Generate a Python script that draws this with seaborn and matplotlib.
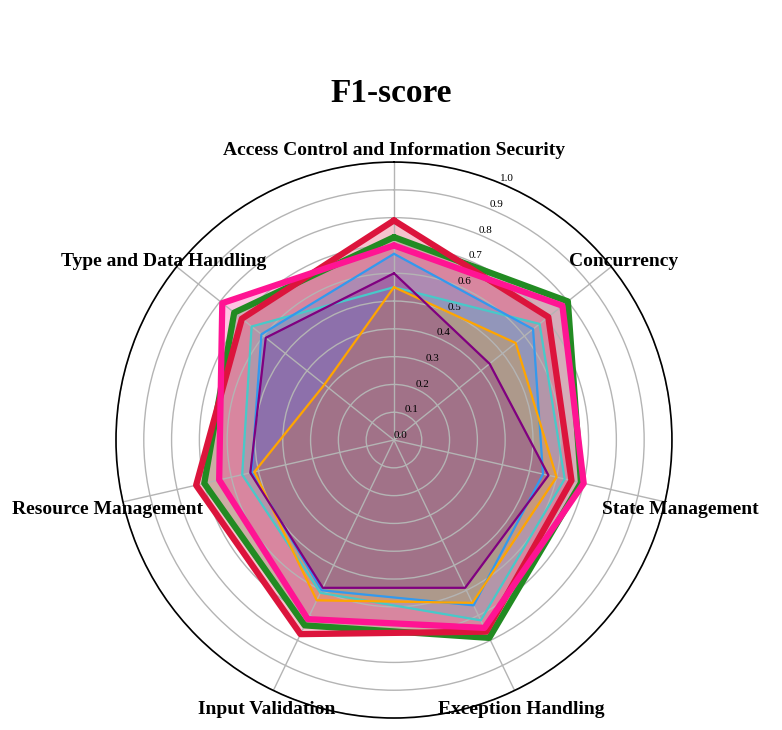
import numpy as np
import pandas as pd
import matplotlib
matplotlib.use('Agg')
import matplotlib.pyplot as plt
import matplotlib.transforms as mtransforms
import seaborn as sns

sns.set_style('white')
plt.rcParams['font.family'] = ['Liberation Serif', 'DejaVu Serif']
plt.rcParams['text.color'] = 'black'
plt.rcParams['xtick.color'] = 'black'
plt.rcParams['ytick.color'] = 'black'

# ── data ──────────────────────────────────────────────────────────
categories = ['Access Control and Information Security', 'Concurrency',
              'State Management', 'Exception Handling', 'Input Validation',
              'Resource Management', 'Type and Data Handling']

green_f1 = [0.73, 0.80, 0.69, 0.79, 0.74, 0.70, 0.735]
crimson_f1 = [0.79, 0.71, 0.655, 0.765, 0.775, 0.73, 0.70]
pink_f1 = [0.70, 0.775, 0.70, 0.75, 0.715, 0.645, 0.79]
turquoise_f1 = [0.55, 0.67, 0.63, 0.72, 0.61, 0.56, 0.655]
blue_f1 = [0.67, 0.64, 0.55, 0.66, 0.60, 0.525, 0.61]
orange_f1 = [0.55, 0.56, 0.60, 0.65, 0.64, 0.515, 0.32]
purple_f1 = [0.60, 0.44, 0.57, 0.59, 0.59, 0.53, 0.59]

r_ticks = [0.0, 0.1, 0.2, 0.3, 0.4, 0.5, 0.6, 0.7, 0.8, 0.9, 1.0]

# styles: (values, colour, line width)
series = [
    (green_f1, '#228B22', 4.5),
    (crimson_f1, '#DC143C', 4.5),
    (pink_f1, '#FF1493', 4.5),
    (turquoise_f1, '#48C9C9', 1.6),
    (blue_f1, '#3399EE', 1.6),
    (orange_f1, '#FFA500', 1.6),
    (purple_f1, '#800080', 1.6),
]

angles = np.linspace(0, 2 * np.pi, len(categories), endpoint=False)
closed_angles = np.append(angles, angles[0])

fig = plt.figure(figsize=(7.82, 7.3), dpi=100)
ax = fig.add_axes([0.1483, 0.0164, 0.711, 0.7616], projection='polar')
ax.set_theta_offset(np.pi / 2)
ax.set_theta_direction(-1)

for vals, color, lw in series:
    closed_vals = np.append(vals, vals[0])
    df = pd.DataFrame({'angle': closed_angles, 'score': closed_vals})
    sns.lineplot(data=df, x='angle', y='score', sort=False, estimator=None,
                 color=color, linewidth=lw, ax=ax, zorder=3)
    ax.fill(closed_angles, closed_vals, color=color, alpha=0.25, zorder=1)

ax.set_xlabel('')
ax.set_ylabel('')
ax.set_axisbelow(False)
ax.set_ylim(0, 1)
ax.set_yticks(r_ticks)
ax.set_yticklabels([f'{t:.1f}' for t in r_ticks], fontsize=8)
ax.set_rlabel_position(22.5)
ax.set_xticks(angles)
ax.set_xticklabels([])
ax.grid(color='#b4b4b4', linewidth=1)
ax.spines['polar'].set_color('black')
ax.spines['polar'].set_linewidth(1.2)
ax.spines['polar'].set_zorder(5)

# category names centred just outside the outer ring
label_tr = mtransforms.offset_copy(ax.transData, fig=fig, y=-4.5, units='dots')
for ang, name in zip(angles, categories):
    ax.text(ang, 1.058, name, ha='center', va='center', fontsize=14,
            fontweight='bold', clip_on=False, transform=label_tr)

fig.text(0.5, 1 - 94 / 730, 'F1-score', ha='center', va='center',
         fontsize=24, fontweight='bold')

fig.savefig('out.png', dpi=100)
plt.close()
